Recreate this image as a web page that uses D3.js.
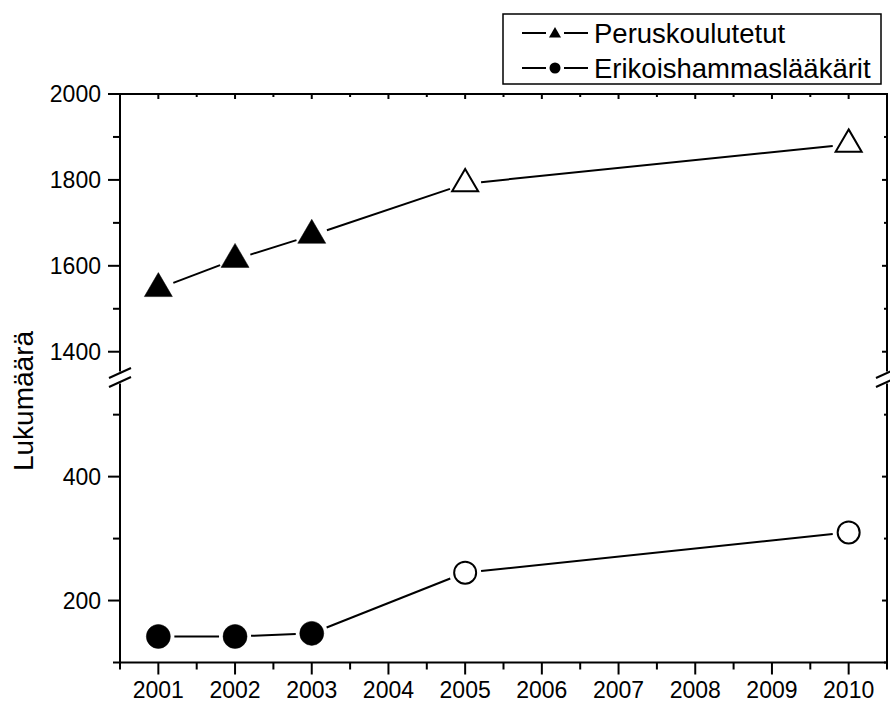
<!DOCTYPE html>
<html>
<head>
<meta charset="utf-8">
<script src="https://cdn.jsdelivr.net/npm/d3@7/dist/d3.min.js"></script>
<style>
  html, body { margin: 0; padding: 0; background: #fff; }
  svg { display: block; }
  text { font-family: Arial, "Liberation Sans", sans-serif; fill: #000; }
</style>
</head>
<body>
<svg id="chart" width="890" height="702"></svg>
<script>
// ---- data ----
const years = [2001, 2002, 2003, 2005, 2010];
const peruskoulutetut = [1547, 1615, 1671, 1791, 1883];
const erikoishammaslaakarit = [142, 142, 147, 245, 310];
const estimateYears = [2005, 2010];           // drawn as open symbols
const seriesNames = ["Peruskoulutetut", "Erikoishammaslääkärit"];
const xTickYears = [2001, 2002, 2003, 2004, 2005, 2006, 2007, 2008, 2009, 2010];
const upperMajorTicks = [1400, 1600, 1800, 2000];
const upperMinorTicks = [1500, 1700, 1900];
const lowerMajorTicks = [200, 400];
const lowerMinorTicks = [100, 300, 500];
const yLabel = "Lukumäärä";

// ---- layout ----
const svg = d3.select("#chart");
const L = 120, R = 887, T = 94, B = 662.5, BRK = 377.5;

const x = d3.scaleLinear().domain([2000.5, 2010.5]).range([L, R]);
const yUp = d3.scaleLinear().domain([1340, 2000]).range([BRK, T]);
const yLo = d3.scaleLinear().domain([100, 560]).range([B, BRK]);

const g = svg.append("g");
const AX = 2;

// frame lines
g.append("line").attr("x1", L - 1).attr("x2", R + 1).attr("y1", T).attr("y2", T).attr("stroke", "#000").attr("stroke-width", AX);
g.append("line").attr("x1", L - 1).attr("x2", R + 1).attr("y1", B).attr("y2", B).attr("stroke", "#000").attr("stroke-width", AX);
[L, R].forEach(xx => {
  g.append("line").attr("x1", xx).attr("x2", xx).attr("y1", T).attr("y2", BRK - 6).attr("stroke", "#000").attr("stroke-width", AX);
  g.append("line").attr("x1", xx).attr("x2", xx).attr("y1", BRK + 6).attr("y2", B).attr("stroke", "#000").attr("stroke-width", AX);
  // break slashes
  [-4.5, 4.5].forEach(dy => {
    g.append("line")
      .attr("x1", xx - 11).attr("y1", BRK + dy + 5)
      .attr("x2", xx + 11).attr("y2", BRK + dy - 5)
      .attr("stroke", "#000").attr("stroke-width", 2);
  });
});

// y axes (left outward ticks, right inward ticks)
function yTicks(scale, vals, len, labels) {
  vals.forEach(v => {
    const yy = scale(v);
    g.append("line").attr("x1", L - len).attr("x2", L).attr("y1", yy).attr("y2", yy).attr("stroke", "#000").attr("stroke-width", AX);
    g.append("line").attr("x1", R - (len > 8 ? 5 : 3)).attr("x2", R).attr("y1", yy).attr("y2", yy).attr("stroke", "#000").attr("stroke-width", AX);
    if (labels) {
      g.append("text").attr("x", L - 19).attr("y", yy).attr("dy", "0.36em")
        .attr("text-anchor", "end").attr("font-size", 23).text(v);
    }
  });
}
yTicks(yUp, upperMajorTicks, 12, true);
yTicks(yUp, upperMinorTicks, 7, false);
yTicks(yLo, lowerMajorTicks, 12, true);
yTicks(yLo, lowerMinorTicks, 7, false);

// x axis ticks
const xMinor = d3.range(2000.5, 2011, 1);
xTickYears.forEach(v => {
  const xx = x(v);
  g.append("line").attr("x1", xx).attr("x2", xx).attr("y1", B).attr("y2", B + 12).attr("stroke", "#000").attr("stroke-width", AX);
  g.append("line").attr("x1", xx).attr("x2", xx).attr("y1", T).attr("y2", T + 5).attr("stroke", "#000").attr("stroke-width", AX);
  g.append("text").attr("x", xx).attr("y", 698).attr("text-anchor", "middle").attr("font-size", 23).text(v);
});
xMinor.forEach(v => {
  const xx = x(v);
  g.append("line").attr("x1", xx).attr("x2", xx).attr("y1", B).attr("y2", B + 7).attr("stroke", "#000").attr("stroke-width", AX);
  g.append("line").attr("x1", xx).attr("x2", xx).attr("y1", T).attr("y2", T + 3).attr("stroke", "#000").attr("stroke-width", AX);
});

// y label
g.append("text").attr("transform", `translate(33,401) rotate(-90)`)
  .attr("text-anchor", "middle").attr("font-size", 28).text(yLabel);

// ---- series ----
const triPath = s => `M0,${-16 * s}L${14 * s},${8 * s}L${-14 * s},${8 * s}Z`;

function drawSeries(vals, yScale, kind) {
  const pts = years.map((yr, i) => ({ yr, px: x(yr), py: yScale(vals[i]), open: estimateYears.includes(yr) }));
  const gap = 16;
  for (let i = 0; i < pts.length - 1; i++) {
    const a = pts[i], b = pts[i + 1];
    const dx = b.px - a.px, dy = b.py - a.py, d = Math.hypot(dx, dy);
    const ux = dx / d, uy = dy / d;
    g.append("line")
      .attr("x1", a.px + ux * gap).attr("y1", a.py + uy * gap)
      .attr("x2", b.px - ux * gap).attr("y2", b.py - uy * gap)
      .attr("stroke", "#000").attr("stroke-width", 2);
  }
  pts.forEach(p => {
    if (kind === "tri") {
      g.append("path").attr("d", triPath(p.open ? 0.93 : 1))
        .attr("transform", `translate(${p.px},${p.py})`)
        .attr("fill", p.open ? "#fff" : "#000").attr("stroke", "#000")
        .attr("stroke-width", p.open ? 2 : 0.5).attr("stroke-linejoin", "miter");
    } else {
      g.append("circle").attr("cx", p.px).attr("cy", p.py).attr("r", p.open ? 11 : 12)
        .attr("fill", p.open ? "#fff" : "#000").attr("stroke", "#000").attr("stroke-width", p.open ? 2 : 0.5);
    }
  });
}
drawSeries(peruskoulutetut, yUp, "tri");
drawSeries(erikoishammaslaakarit, yLo, "circ");

// ---- legend ----
const lg = svg.append("g");
lg.append("rect").attr("x", 503).attr("y", 14).attr("width", 378).attr("height", 70)
  .attr("fill", "#fff").attr("stroke", "#000").attr("stroke-width", 1.5);
const rows = [{ name: seriesNames[0], kind: "tri", cy: 33, base: 43 },
              { name: seriesNames[1], kind: "circ", cy: 68, base: 78 }];
rows.forEach(r => {
  lg.append("line").attr("x1", 522).attr("x2", 546).attr("y1", r.cy).attr("y2", r.cy).attr("stroke", "#000").attr("stroke-width", 2);
  lg.append("line").attr("x1", 564).attr("x2", 588).attr("y1", r.cy).attr("y2", r.cy).attr("stroke", "#000").attr("stroke-width", 2);
  if (r.kind === "tri") {
    lg.append("path").attr("d", triPath(0.43)).attr("transform", `translate(555,${r.cy + 1})`).attr("fill", "#000");
  } else {
    lg.append("circle").attr("cx", 555).attr("cy", r.cy).attr("r", 5.5).attr("fill", "#000");
  }
  lg.append("text").attr("x", 594).attr("y", r.base).attr("font-size", 27.5).text(r.name);
});
</script>
</body>
</html>
